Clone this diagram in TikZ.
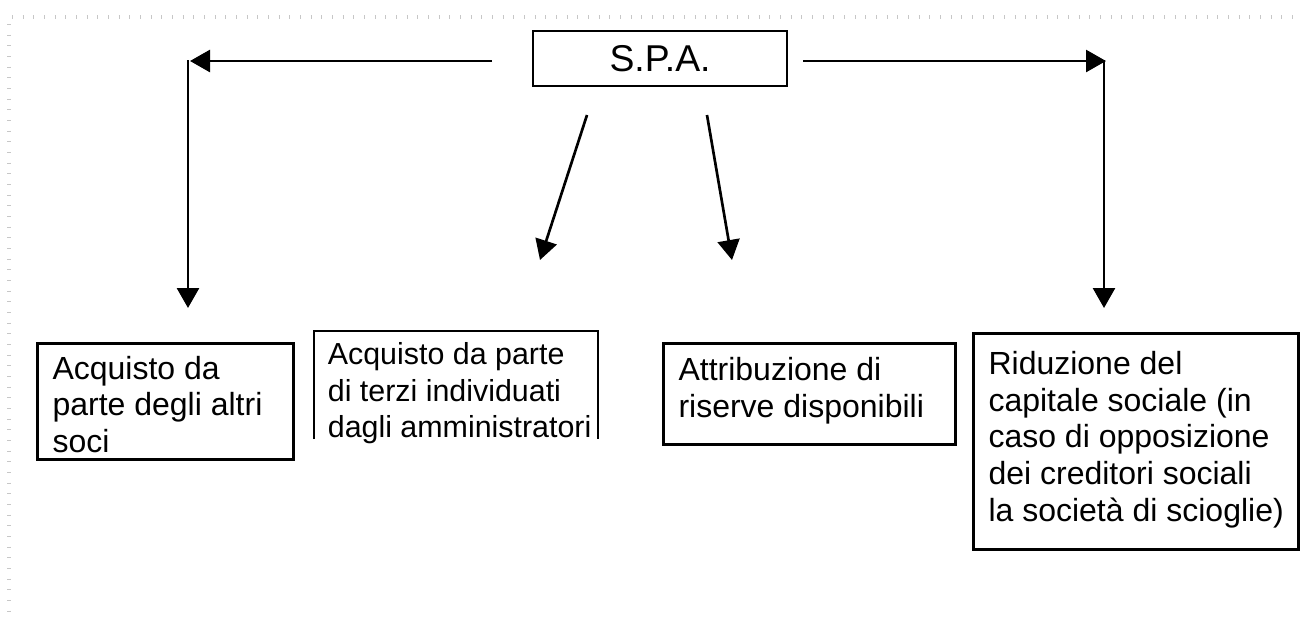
\documentclass[tikz,border=0pt]{standalone}
\usepackage{fontspec}
\setmainfont{Liberation Sans}
\usetikzlibrary{arrows.meta}
\tikzstyle{box}=[draw=black,line width=1pt,inner sep=0pt]
\tikzstyle{opn}=[inner sep=0pt]
\tikzstyle{txt}=[anchor=north west,align=left,inner xsep=6pt,inner ysep=7pt,
  font=\fontsize{12}{13.8}\selectfont]
\tikzstyle{arr}=[line width=1pt,-{Triangle[length=7.5pt,width=8.25pt]}]
\tikzstyle{marks}=[draw=black!22,line width=1.5pt,dash pattern=on 0.4pt off 3.6pt]

\begin{document}
\begin{tikzpicture}[x=0.375pt,y=-0.375pt]
    \useasboundingbox (0,0) rectangle (1300,619);
    \draw [marks] (12,17) -- (1300,17);
    \draw [marks] (9,24) -- (9,619);
    \node [style=box,minimum width=95.25pt,minimum height=20.6pt,
      font=\fontsize{14}{16}\selectfont] (spa) at (660,58.5) {S.P.A.};
    \node [style=box,anchor=north west,minimum width=96pt,minimum height=43.5pt] (b1) at (36,342) {};
    \node [style=opn,anchor=north west,minimum width=106.1pt,minimum height=40.1pt] (b2) at (314,331) {};
    \node [style=box,anchor=north west,minimum width=109.5pt,minimum height=37.9pt] (b3) at (662,342) {};
    \node [style=box,anchor=north west,minimum width=121.9pt,minimum height=81pt] (b4) at (972,332) {};
    \draw [line width=1pt] (b2.south west) -- (b2.north west) -- (b2.north east) -- (b2.south east);
    \node [style=txt,inner ysep=5pt] (t1) at (b1.north west) {Acquisto da\\parte degli altri\\soci};
    \node [style=txt,inner ysep=4pt,inner xsep=5pt,font=\fontsize{11.4}{13.8}\selectfont] (t2)
      at (b2.north west) {Acquisto da parte\\di terzi individuati\\dagli amministratori};
    \node [style=txt,inner ysep=5.5pt] (t3) at (b3.north west) {Attribuzione di\\riserve disponibili};
    \node [style=txt] (t4) at (b4.north west) {Riduzione del\\capitale sociale (in\\caso di opposizione\\dei creditori sociali\\la società di scioglie)};
    \coordinate (la) at (492,61);
    \coordinate (lb) at (190,61);
    \coordinate (lc) at (188,60);
    \coordinate (ld) at (188,308);
    \coordinate (ra) at (803,61);
    \coordinate (rb) at (1106,61);
    \coordinate (rc) at (1104,60);
    \coordinate (rd) at (1104,308);
    \coordinate (da) at (587,115);
    \coordinate (db) at (540,260);
    \coordinate (dc) at (707,115);
    \coordinate (dd) at (732,260);
    \draw [style=arr] (la) to (lb);
    \draw [style=arr] (lc) to (ld);
    \draw [style=arr] (ra) to (rb);
    \draw [style=arr] (rc) to (rd);
    \draw [style=arr] (da) to (db);
    \draw [style=arr] (dc) to (dd);
\end{tikzpicture}
\end{document}
